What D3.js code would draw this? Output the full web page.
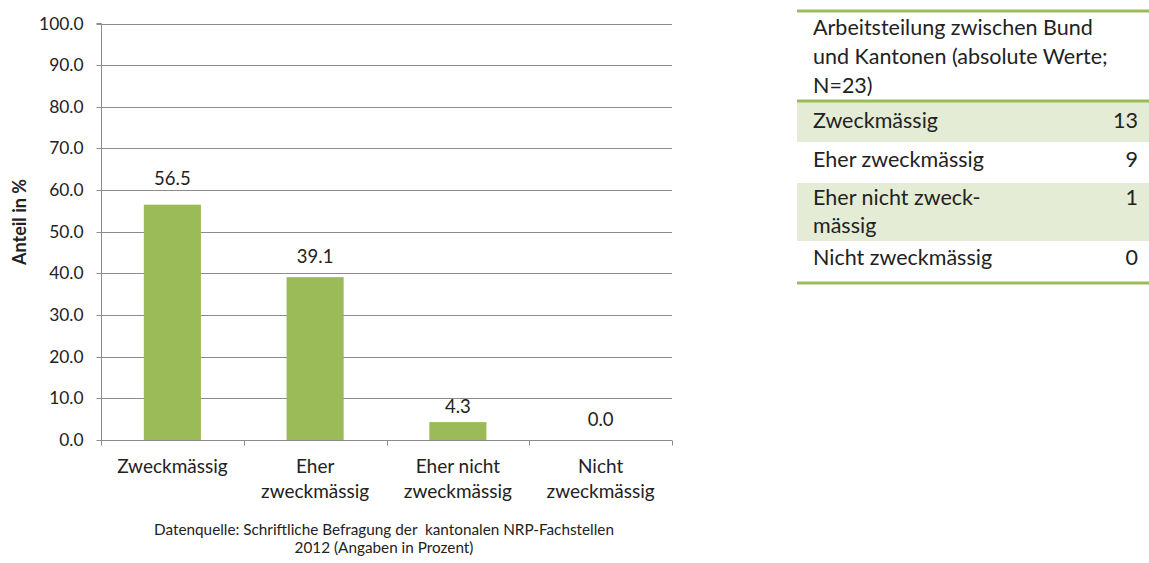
<!DOCTYPE html>
<html>
<head>
<meta charset="utf-8">
<script src="https://cdn.jsdelivr.net/npm/d3@7"></script>
<style>
  html, body { margin: 0; padding: 0; background: #fff; }
  svg text { font-family: Lato, "Open Sans", sans-serif; fill: #222; }
</style>
</head>
<body>
<svg id="chart" width="1149" height="563"></svg>
<script>
// ---- data ----
const categories = ["Zweckmässig", "Eher zweckmässig", "Eher nicht zweckmässig", "Nicht zweckmässig"];
const categoryLines = [["Zweckmässig"], ["Eher", "zweckmässig"], ["Eher nicht", "zweckmässig"], ["Nicht", "zweckmässig"]];
const percentValues = [56.5, 39.1, 4.3, 0.0];
const yTicks = [0, 10, 20, 30, 40, 50, 60, 70, 80, 90, 100];
const yAxisTitle = "Anteil in %";
const sourceLines = ["Datenquelle: Schriftliche Befragung der  kantonalen NRP-Fachstellen", "2012 (Angaben in Prozent)"];
const tableTitleLines = ["Arbeitsteilung zwischen Bund", "und Kantonen (absolute Werte;", "N=23)"];
const tableRowLabels = [["Zweckmässig"], ["Eher zweckmässig"], ["Eher nicht zweck-", "mässig"], ["Nicht zweckmässig"]];
const tableCounts = [13, 9, 1, 0];

// ---- layout (not data) ----
const labelGap = [20, 14.5, 9, 14];          // value-label baseline distance above bar top
const rowTops = [101, 142, 183, 241];
const rowBottoms = [142, 183, 241, 283];
const rowBaseline = [27, 25, 22, 24];

const svg = d3.select("#chart");
const green = "#9BBB59";
const gridColor = "#8c8c8c";
const plot = { left: 101, right: 672, top: 23.5, bottom: 440 };

const x = d3.scaleBand().domain(categories).range([plot.left, plot.right]).padding(0);
const y = d3.scaleLinear().domain([0, 100]).range([plot.bottom, plot.top]);

// gridlines
svg.append("g").selectAll("line").data(yTicks.filter(d => d > 0)).join("line")
  .attr("x1", plot.left).attr("x2", plot.right)
  .attr("y1", d => Math.round(y(d)) + 0.5).attr("y2", d => Math.round(y(d)) + 0.5)
  .attr("stroke", gridColor).attr("stroke-width", 1);

// y axis
const yAxis = d3.axisLeft(y).tickValues(yTicks).tickFormat(d3.format(".1f")).tickSize(5).tickPadding(13);
const gy = svg.append("g").attr("transform", `translate(${plot.left + 0.5},0)`).call(yAxis);
gy.select(".domain").attr("stroke", gridColor).attr("d", `M-5,${plot.top}H0V${plot.bottom}`);
gy.selectAll(".tick line").attr("stroke", gridColor);
gy.selectAll(".tick").attr("transform", d => `translate(0,${Math.round(y(d)) + 0.5})`);
gy.selectAll(".tick text").style("font-size", "17.4px").style("font-family", "Lato, sans-serif").attr("fill", "#222");

// bars
const barW = x.bandwidth() * 0.4;
svg.append("g").selectAll("rect").data(percentValues).join("rect")
  .attr("x", (d, i) => x(categories[i]) + (x.bandwidth() - barW) / 2)
  .attr("y", d => y(d))
  .attr("width", barW)
  .attr("height", d => y(0) - y(d))
  .attr("fill", green);

// x axis
const gx = svg.append("g").attr("transform", `translate(0,${Math.round(y(0)) + 0.5})`);
gx.append("line").attr("x1", plot.left).attr("x2", plot.right).attr("stroke", gridColor);
const boundaries = categories.map(c => x(c)).concat([plot.right]);
gx.selectAll("line.tk").data(boundaries).join("line").attr("class", "tk")
  .attr("x1", d => Math.round(d) + 0.5).attr("x2", d => Math.round(d) + 0.5)
  .attr("y1", 0).attr("y2", 5).attr("stroke", gridColor);

// category labels
const catText = svg.append("g").selectAll("text").data(categoryLines).join("text")
  .attr("text-anchor", "middle").style("font-size", "19px")
  .attr("transform", (d, i) => `translate(${x(categories[i]) + x.bandwidth() / 2},473)`);
catText.selectAll("tspan").data(d => d).join("tspan")
  .attr("x", 0).attr("y", (d, j) => j * 25).text(d => d);

// value labels
svg.append("g").selectAll("text").data(percentValues).join("text")
  .attr("text-anchor", "middle").style("font-size", "18.5px")
  .attr("x", (d, i) => x(categories[i]) + x.bandwidth() / 2)
  .attr("y", (d, i) => y(d) - labelGap[i])
  .text(d => d3.format(".1f")(d));

// y axis title
svg.append("text")
  .attr("transform", "translate(26,222) rotate(-90)")
  .attr("text-anchor", "middle")
  .style("font-size", "18px").style("font-weight", "bold")
  .text(yAxisTitle);

// source
svg.append("g").selectAll("text").data(sourceLines).join("text")
  .attr("x", 384).attr("y", (d, i) => 535 + i * 18)
  .attr("text-anchor", "middle").style("font-size", "15.3px").style("white-space", "pre")
  .text(d => d);

// ---- table ----
const tbl = { left: 797, right: 1149, textX: 813, numX: 1138 };
const tg = svg.append("g");
tableCounts.forEach((c, i) => {
  if (i % 2 === 0) tg.append("rect").attr("x", tbl.left).attr("width", tbl.right - tbl.left)
    .attr("y", rowTops[i]).attr("height", rowBottoms[i] - rowTops[i]).attr("fill", "#E4ECD5");
});
[11, 101, 283].forEach(yy => tg.append("rect").attr("x", tbl.left).attr("width", tbl.right - tbl.left)
  .attr("y", yy - 1.5).attr("height", 3).attr("fill", green));

tg.selectAll("text.title").data(tableTitleLines).join("text").attr("class", "title")
  .attr("x", tbl.textX).attr("y", (d, i) => 35 + i * 29)
  .style("font-size", "21.5px").text(d => d);

tableRowLabels.forEach((lines, i) => {
  lines.forEach((ln, j) => {
    tg.append("text").attr("x", tbl.textX).attr("y", rowTops[i] + rowBaseline[i] + j * 28)
      .style("font-size", "21.5px").text(ln);
  });
  tg.append("text").attr("x", tbl.numX).attr("y", rowTops[i] + rowBaseline[i])
    .attr("text-anchor", "end").style("font-size", "21.5px").text(tableCounts[i]);
});
</script>
</body>
</html>
